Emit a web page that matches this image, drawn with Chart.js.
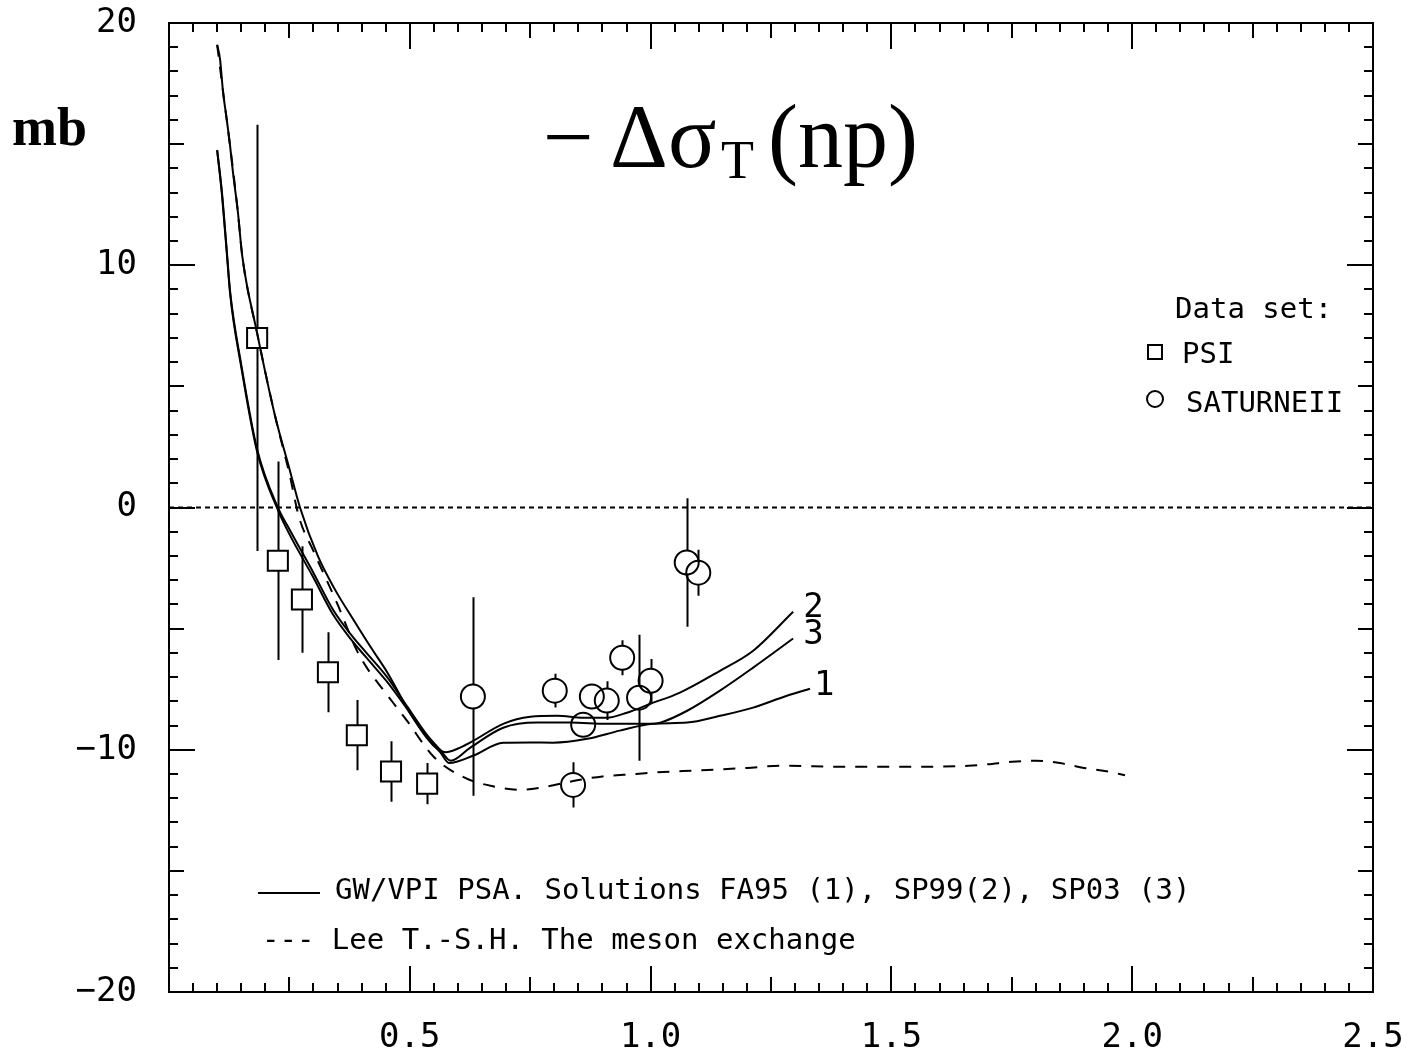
<!DOCTYPE html>
<html>
<head>
<meta charset="utf-8">
<script src="https://cdn.jsdelivr.net/npm/chart.js@4/dist/chart.umd.min.js"></script>
<style>
body{margin:0;background:#fff;}
</style>
</head>
<body>
<canvas id="myChart" width="1410" height="1058"></canvas>
<script>
// values (x = T in GeV, y = mb)
let xTickLabels = ["", "0.5", "1.0", "1.5", "2.0", "2.5"];
let yTickLabels = ["\u221220", "\u221210", "0", "10", "20"];

// PSI data (squares)
let psiX = [0.183, 0.226, 0.276, 0.330, 0.390, 0.461, 0.536];
let psiY = [7.0, -2.2, -3.8, -6.8, -9.4, -10.9, -11.4];
let psiErr = [8.8, 4.1, 2.2, 1.65, 1.45, 1.25, 0.85];

// SATURNE II data (circles)
let satX = [0.631, 0.801, 0.839, 0.860, 0.878, 0.909, 0.941, 0.976, 1.000, 1.075, 1.099];
let satY = [-7.8, -7.56, -11.45, -8.97, -7.8, -7.97, -6.2, -7.85, -7.15, -2.27, -2.69];
let satErr = [4.1, 0.7, 0.93, 0.5, 0.5, 0.8, 0.72, 2.6, 0.9, 2.65, 0.95];

// PSA solutions
let fa95X = [0.1, 0.11, 0.12, 0.127, 0.15, 0.183, 0.226, 0.25, 0.3, 0.34, 0.38, 0.41, 0.453, 0.494, 0.536, 0.563, 0.582, 0.631, 0.694, 0.75, 0.797, 0.868, 0.936, 1.005, 1.076, 1.144, 1.213, 1.283, 1.331];
let fa95Y = [14.75, 12.9, 10.5, 8.8, 5.8, 2.3, -0.1, -1.1, -2.9, -4.4, -5.5, -6.2, -7.2, -8.3, -9.5, -10.1, -10.55, -10.25, -9.71, -9.7, -9.71, -9.55, -9.21, -8.93, -8.88, -8.6, -8.26, -7.77, -7.48];

let sp99X = [0.1, 0.106, 0.112, 0.12, 0.127, 0.133, 0.143, 0.152, 0.183, 0.22, 0.25, 0.272, 0.309, 0.345, 0.382, 0.42, 0.453, 0.507, 0.548, 0.575, 0.6, 0.625, 0.694, 0.75, 0.806, 0.86, 0.909, 0.951, 1.0, 1.061, 1.144, 1.213, 1.296];
let sp99Y = [19.1, 18.5, 17.2, 16.0, 14.9, 13.8, 12.2, 10.4, 7.2, 3.8, 1.6, 0, -2.0, -3.4, -4.6, -5.8, -6.8, -8.7, -9.8, -10.1, -9.95, -9.71, -8.93, -8.64, -8.6, -8.68, -8.68, -8.47, -8.1, -7.64, -6.74, -5.91, -4.3];

let sp03X = [0.1, 0.11, 0.12, 0.127, 0.15, 0.183, 0.226, 0.25, 0.3, 0.34, 0.38, 0.41, 0.453, 0.494, 0.536, 0.563, 0.585, 0.625, 0.694, 0.764, 0.833, 0.909, 0.993, 1.02, 1.076, 1.144, 1.213, 1.296];
let sp03Y = [14.75, 13.0, 10.6, 8.9, 5.9, 2.4, 0, -0.9, -2.7, -4.2, -5.3, -6.0, -7.0, -8.2, -9.4, -10.0, -10.45, -9.92, -9.09, -8.88, -8.88, -8.93, -8.93, -8.88, -8.39, -7.56, -6.61, -5.41];

// Lee meson exchange
let leeX = [0.1, 0.112, 0.127, 0.143, 0.152, 0.183, 0.22, 0.25, 0.27, 0.3, 0.35, 0.39, 0.417, 0.444, 0.465, 0.494, 0.55, 0.615, 0.67, 0.73, 0.77, 0.85, 0.9, 0.97, 1.0, 1.1, 1.2, 1.27, 1.4, 1.55, 1.66, 1.7, 1.75, 1.8, 1.85, 1.9, 1.95, 1.985];
let leeY = [19.1, 17.2, 14.9, 12.2, 10.4, 7.2, 3.8, 1.4, -0.4, -1.8, -4.0, -5.9, -6.8, -7.5, -8.05, -8.8, -10.3, -11.16, -11.5, -11.65, -11.57, -11.25, -11.1, -11.0, -10.95, -10.85, -10.75, -10.66, -10.7, -10.7, -10.66, -10.6, -10.5, -10.45, -10.55, -10.75, -10.9, -11.05];

let zeroX = [0, 2.5];
let zeroY = [0, 0];

let curveNames = ["1", "2", "3"];

function pts(xs, ys) {
    return xs.map((v, i) => ({x: v, y: ys[i]}));
}

let mono = "'DejaVu Sans Mono', monospace";
let serif = "'Liberation Serif', 'Times New Roman', serif";

// error bars, frame, ticks and texts
let framePlugin = {
    id: "frame",
    beforeDatasetsDraw(chart) {
        let ctx = chart.ctx;
        let x = chart.scales.x, y = chart.scales.y;
        ctx.save();
        ctx.strokeStyle = "#000";
        ctx.lineWidth = 2;
        let bars = (xs, ys, es, r) => {
            xs.forEach((v, i) => {
                let px = Math.round(x.getPixelForValue(v)) + 0.5;
                let pc = y.getPixelForValue(ys[i]);
                let pt = y.getPixelForValue(ys[i] + es[i]);
                let pb = y.getPixelForValue(ys[i] - es[i]);
                ctx.beginPath();
                if (pc - pt > r) { ctx.moveTo(px, pt); ctx.lineTo(px, pc - r); }
                if (pb - pc > r) { ctx.moveTo(px, pc + r); ctx.lineTo(px, pb); }
                ctx.stroke();
            });
        };
        bars(psiX, psiY, psiErr, 10);
        bars(satX, satY, satErr, 12);
        ctx.restore();
    },
    afterDraw(chart) {
        let ctx = chart.ctx;
        let a = chart.chartArea;
        let x = chart.scales.x, y = chart.scales.y;
        ctx.save();
        ctx.strokeStyle = "#000";
        ctx.fillStyle = "#000";
        ctx.lineWidth = 2;
        ctx.strokeRect(a.left, a.top, a.right - a.left, a.bottom - a.top);

        ctx.beginPath();
        for (let i = 0; i <= 50; i++) {
            let len = i % 10 == 0 ? 26 : (i % 5 == 0 ? 15 : 9);
            let px = Math.round(x.getPixelForValue(i * 0.05));
            ctx.moveTo(px, a.bottom); ctx.lineTo(px, a.bottom - len);
            ctx.moveTo(px, a.top); ctx.lineTo(px, a.top + len);
        }
        for (let i = -20; i <= 20; i++) {
            let len = i % 10 == 0 ? 26 : (i % 5 == 0 ? 15 : 9);
            let py = Math.round(y.getPixelForValue(i));
            ctx.moveTo(a.left, py); ctx.lineTo(a.left + len, py);
            ctx.moveTo(a.right, py); ctx.lineTo(a.right - len, py);
        }
        ctx.stroke();

        // curve numbers at the end of each solution
        ctx.font = "34px " + mono;
        ctx.textBaseline = "middle";
        ctx.textAlign = "left";
        [[fa95X, fa95Y], [sp99X, sp99Y], [sp03X, sp03Y]].forEach((c, i) => {
            let n = c[0].length - 1;
            ctx.fillText(curveNames[i], x.getPixelForValue(c[0][n]) + (i == 0 ? 4 : 10), y.getPixelForValue(c[1][n]) - 3);
        });

        // title
        ctx.textBaseline = "alphabetic";
        ctx.font = "90px " + serif;
        ctx.fillText("\u2212", 543, 167);
        ctx.fillText("\u0394\u03c3", 610, 167);
        ctx.fillText("(np)", 768, 167);
        ctx.font = "54px " + serif;
        ctx.fillText("T", 721, 178);

        ctx.font = "bold 54px " + serif;
        ctx.fillText("mb", 12, 145);

        // data set legend
        ctx.font = "29px " + mono;
        ctx.textBaseline = "middle";
        ctx.fillText("Data set:", 1175, 310);
        ctx.fillText("PSI", 1182, 355);
        ctx.fillText("SATURNEII", 1186, 404);
        ctx.strokeRect(1148, 345, 14, 14);
        ctx.beginPath();
        ctx.arc(1155, 399, 8, 0, Math.PI * 2);
        ctx.stroke();

        // model legend
        ctx.beginPath();
        ctx.moveTo(258, 893); ctx.lineTo(320, 893);
        ctx.stroke();
        ctx.fillText("GW/VPI PSA. Solutions FA95 (1), SP99(2), SP03 (3)", 335, 891);
        ctx.fillText("--- Lee T.-S.H. The meson exchange", 262, 941);
        ctx.restore();
    }
};

let ctx1 = document.querySelector("#myChart");

let curve = (data, dash) => ({
    data: data,
    showLine: true,
    borderColor: "#000",
    borderWidth: 2,
    borderDash: dash,
    pointRadius: 0,
    cubicInterpolationMode: "monotone",
});

new Chart(ctx1, {
    type: "scatter",
    data: {
        datasets: [
            Object.assign(curve(pts(zeroX, zeroY), [5, 4]), {cubicInterpolationMode: "default"}),
            curve(pts(fa95X, fa95Y), []),
            curve(pts(sp99X, sp99Y), []),
            curve(pts(sp03X, sp03Y), []),
            curve(pts(leeX, leeY), [12, 10]),
            {
                data: pts(psiX, psiY),
                pointStyle: "rect",
                pointRadius: 14.2,
                pointBorderWidth: 2,
                borderColor: "#000",
                backgroundColor: "rgba(0,0,0,0)",
            },
            {
                data: pts(satX, satY),
                pointStyle: "circle",
                pointRadius: 12,
                pointBorderWidth: 2,
                borderColor: "#000",
                backgroundColor: "rgba(0,0,0,0)",
            },
        ]
    },
    options: {
        responsive: false,
        devicePixelRatio: 1,
        animation: false,
        layout: {
            padding: {top: 23, right: 37, left: 0, bottom: 0}
        },
        plugins: {
            legend: {display: false},
            tooltip: {enabled: false},
        },
        scales: {
            x: {
                type: "linear",
                min: 0,
                max: 2.5,
                grid: {display: false, drawTicks: false},
                border: {display: false},
                ticks: {
                    stepSize: 0.5,
                    padding: 26,
                    color: "#000",
                    maxRotation: 0,
                    autoSkip: false,
                    font: {family: mono, size: 34},
                    callback: (v) => xTickLabels[Math.round(v / 0.5)],
                },
                afterFit: (s) => { s.height = 66; s.paddingLeft = 0; s.paddingRight = 0; },
            },
            y: {
                min: -20,
                max: 20,
                grid: {display: false, drawTicks: false},
                border: {display: false},
                ticks: {
                    stepSize: 10,
                    padding: 32,
                    color: "#000",
                    font: {family: mono, size: 34},
                    callback: (v) => yTickLabels[Math.round((v + 20) / 10)],
                },
                afterFit: (s) => { s.width = 169; s.paddingTop = 0; s.paddingBottom = 0; },
            }
        }
    },
    plugins: [framePlugin]
});
</script>
</body>
</html>
